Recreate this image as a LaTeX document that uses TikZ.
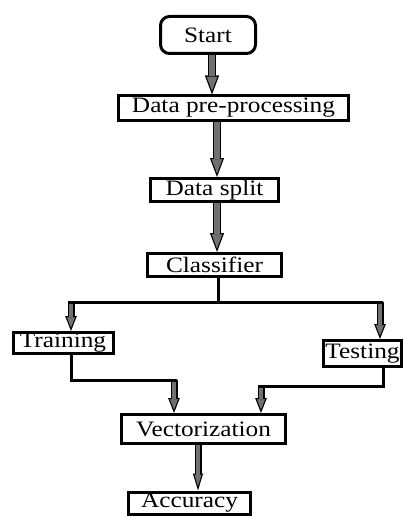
\documentclass[tikz,border=0pt]{standalone}
\usepackage{fontspec}
\setmainfont{Liberation Serif}[FakeStretch=1.15]
\usetikzlibrary{arrows.meta}
\definecolor{shaft}{RGB}{112,112,112}
\tikzset{
  box/.style={draw=black, line width=3pt, fill=white, inner sep=0pt,
    font=\fontsize{22}{26}\selectfont, text=black},
  startbox/.style={box, rounded corners=9pt},
  wire/.style={line width=3pt, draw=black},
}
% hollow grey block arrow: #1 shaft width, #2 head width, #3 head length, #4 tail, #5 head
\newcommand\fatlink[5]{%
  \draw[line width=#1, draw=black,
    -{Triangle[length=#3,width=#2,line width=1.1pt,fill=shaft]}] #4 -- #5;
  \draw[line width=#1-2.4pt, draw=shaft, shorten >=#3-1pt] #4 -- #5;}
\begin{document}
\begin{tikzpicture}[x=1pt,y=-1pt]
\useasboundingbox (0,0) rectangle (406,516);

\node[startbox, minimum width=95, minimum height=37] (start) at (208,35) {Start};
\node[box, minimum width=230, minimum height=24] (pre) at (233.5,108) {Data pre-processing};
\node[box, minimum width=128, minimum height=23] (split) at (214.5,190) {Data split};
\node[box, minimum width=134, minimum height=23] (cls) at (214.5,265) {Classifier};
\node[box, minimum width=100, minimum height=21] (train) at (63,343) {Training};
\node[box, minimum width=78, minimum height=26] (test) at (362.5,353.5) {Testing};
\node[box, minimum width=164, minimum height=29] (vec) at (203.5,429) {Vectorization};
\node[box, minimum width=122, minimum height=22] (acc) at (189.5,503) {Accuracy};

% guide points for the connectors
\coordinate (c1) at (212,0);
\coordinate (c2) at (217,0);
\coordinate (c3) at (218,302);
\coordinate (bl) at (71,302);
\coordinate (br) at (380,302);
\coordinate (tl) at (71,380);
\coordinate (tv) at (174,380);
\coordinate (sr) at (383,386);
\coordinate (sv) at (261,386);
\coordinate (c4) at (198,0);

\fatlink{8.5pt}{14pt}{19pt}{(start.south -| c1)}{(pre.north -| c1)}
\fatlink{8.5pt}{14pt}{19pt}{(pre.south -| c2)}{(split.north -| c2)}
\fatlink{8.5pt}{14pt}{19pt}{(split.south -| c2)}{(cls.north -| c2)}

\fatlink{7pt}{11.5pt}{15pt}{(bl)}{(train.north -| bl)}
\fatlink{7pt}{11.5pt}{15pt}{(br)}{(test.north -| br)}
\fatlink{7pt}{11.5pt}{15pt}{(tv)}{(vec.north -| tv)}
\fatlink{7pt}{11.5pt}{15pt}{(sv)}{(vec.north -| sv)}
\fatlink{7pt}{10pt}{17pt}{(vec.south -| c4)}{(acc.north -| c4)}

\draw[wire] (cls.south -| c3) -- (c3);
\draw[wire] ([xshift=-3pt]bl) -- ([xshift=3pt]br);
\draw[wire] (train.south -| tl) -- (tl) -- ([xshift=3pt]tv);
\draw[wire] (test.south -| sr) -- (sr) -- ([xshift=-3pt]sv);
\end{tikzpicture}
\end{document}
